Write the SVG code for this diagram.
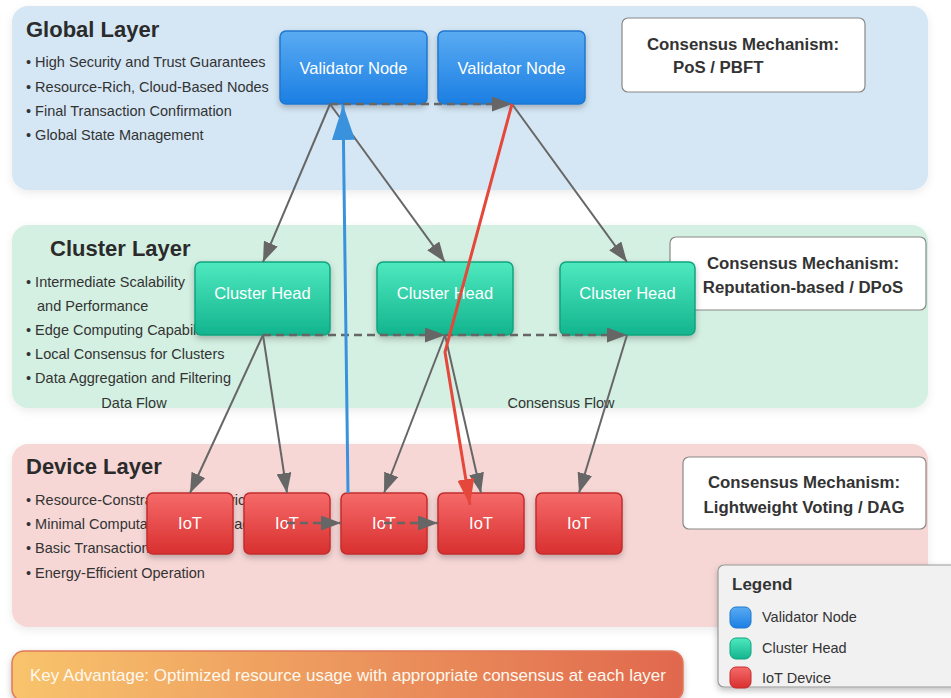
<svg xmlns="http://www.w3.org/2000/svg" width="951" height="698" viewBox="0 0 951 698">
<defs>
<linearGradient id="gBlue" x1="0" y1="0" x2="0" y2="1"><stop offset="0" stop-color="#5aabf2"/><stop offset="1" stop-color="#1b7fe3"/></linearGradient>
<linearGradient id="gGreen" x1="0" y1="0" x2="0" y2="1"><stop offset="0" stop-color="#4ee9bf"/><stop offset="1" stop-color="#13b48e"/></linearGradient>
<linearGradient id="gRed" x1="0" y1="0" x2="0" y2="1"><stop offset="0" stop-color="#f66a6a"/><stop offset="1" stop-color="#d8302f"/></linearGradient>
<linearGradient id="gBanner" x1="0" y1="0" x2="1" y2="0"><stop offset="0" stop-color="#f8c46c"/><stop offset="1" stop-color="#e0684e"/></linearGradient>
<filter id="sh" x="-20%" y="-20%" width="140%" height="150%"><feDropShadow dx="0" dy="3" stdDeviation="3" flood-color="#000" flood-opacity="0.25"/></filter>
<filter id="shp" x="-5%" y="-10%" width="110%" height="125%"><feDropShadow dx="0" dy="3" stdDeviation="4" flood-color="#000" flood-opacity="0.08"/></filter>
<marker id="aG" markerUnits="userSpaceOnUse" markerWidth="20" markerHeight="15" refX="20" refY="7.5" orient="auto"><path d="M0,0 L20,7.5 L0,15 z" fill="#666"/></marker>
<marker id="aB" markerUnits="userSpaceOnUse" markerWidth="35" markerHeight="23" refX="35" refY="11.5" orient="auto"><path d="M0,0 L35,11.5 L0,23 z" fill="#3a92dc"/></marker>
<marker id="aR" markerUnits="userSpaceOnUse" markerWidth="26" markerHeight="17" refX="26" refY="8.5" orient="auto"><path d="M0,0 L26,8.5 L0,17 z" fill="#e5483a"/></marker>
<style>
text{font-family:"Liberation Sans",Arial,sans-serif;}
.title{font-size:22px;font-weight:bold;fill:#2b2b2b;}
.bul{font-size:14.5px;fill:#333;}
.nt{font-size:16.5px;fill:#fff;text-anchor:middle;}
.cm{font-size:16.8px;font-weight:bold;fill:#333;text-anchor:middle;}
.cbox{fill:#fff;stroke:#888;stroke-width:1.2;}
.vn{fill:url(#gBlue);stroke:#1f77d0;stroke-width:1.5;filter:url(#sh);}
.ch{fill:url(#gGreen);stroke:#0fa47f;stroke-width:1.5;filter:url(#sh);}
.iot{fill:url(#gRed);stroke:#c42c2c;stroke-width:1.5;filter:url(#sh);}
.ln{stroke:#666;stroke-width:2;fill:none;marker-end:url(#aG);}
.dash{stroke:#666;stroke-width:2.5;fill:none;stroke-dasharray:8,5;marker-end:url(#aG);}
</style>
</defs>
<rect width="951" height="698" fill="#fff"/>
<g id="global-layer">
<rect x="12" y="6" width="916" height="184" rx="16" fill="#d5e7f5" filter="url(#shp)"/>
<text class="title" x="26" y="37">Global Layer</text>
<text class="bul" x="26" y="67">• High Security and Trust Guarantees</text>
<text class="bul" x="26" y="92">• Resource-Rich, Cloud-Based Nodes</text>
<text class="bul" x="26" y="116">• Final Transaction Confirmation</text>
<text class="bul" x="26" y="140">• Global State Management</text>
<rect class="cbox" x="622" y="18" width="243" height="74" rx="6"/>
<text class="cm" x="743" y="50">Consensus Mechanism:</text>
<text class="cm" x="673" y="73" style="text-anchor:start">PoS / PBFT</text>
</g>
<g id="cluster-layer">
<rect x="12" y="225" width="916" height="183" rx="16" fill="#d4f0e2" filter="url(#shp)"/>
<text class="title" x="50" y="256">Cluster Layer</text>
<text class="bul" x="26" y="287">• Intermediate Scalability</text>
<text class="bul" x="37" y="311">and Performance</text>
<text class="bul" x="26" y="335">• Edge Computing Capabilities</text>
<text class="bul" x="26" y="359">• Local Consensus for Clusters</text>
<text class="bul" x="26" y="383">• Data Aggregation and Filtering</text>
<text class="bul" x="134" y="408" text-anchor="middle">Data Flow</text>
<text class="bul" x="561" y="408" text-anchor="middle">Consensus Flow</text>
<rect class="cbox" x="670" y="237" width="256" height="73" rx="6"/>
<text class="cm" x="803" y="269">Consensus Mechanism:</text>
<text class="cm" x="803" y="293">Reputation-based / DPoS</text>
</g>
<g id="device-layer">
<rect x="12" y="444" width="916" height="183" rx="16" fill="#f6d7d6" filter="url(#shp)"/>
<text class="title" x="26" y="474">Device Layer</text>
<text class="bul" x="26" y="505">• Resource-Constrained IoT Devices</text>
<text class="bul" x="26" y="529">• Minimal Computational Overhead</text>
<text class="bul" x="26" y="553">• Basic Transaction Validation</text>
<text class="bul" x="26" y="578">• Energy-Efficient Operation</text>
<rect class="cbox" x="683" y="457" width="243" height="72" rx="6"/>
<text class="cm" x="804" y="488">Consensus Mechanism:</text>
<text class="cm" x="804" y="513">Lightweight Voting / DAG</text>
</g>
<g id="validator-1"><rect class="vn" x="280" y="31" width="147" height="73" rx="6"/><text class="nt" x="353.5" y="74">Validator Node</text></g>
<g id="validator-2"><rect class="vn" x="438" y="31" width="147" height="73" rx="6"/><text class="nt" x="511.5" y="74">Validator Node</text></g>
<g id="cluster-head-1"><rect class="ch" x="195" y="262" width="135" height="73" rx="6"/><text class="nt" x="262.5" y="299">Cluster Head</text></g>
<g id="cluster-head-2"><rect class="ch" x="377" y="262" width="136" height="73" rx="6"/><text class="nt" x="445" y="299">Cluster Head</text></g>
<g id="cluster-head-3"><rect class="ch" x="560" y="262" width="135" height="73" rx="6"/><text class="nt" x="627.5" y="299">Cluster Head</text></g>
<g id="iot-1"><rect class="iot" x="147" y="493" width="86" height="61" rx="6"/><text class="nt" x="190" y="529">IoT</text></g>
<g id="iot-2"><rect class="iot" x="244" y="493" width="86" height="61" rx="6"/><text class="nt" x="287" y="529">IoT</text></g>
<g id="iot-3"><rect class="iot" x="341" y="493" width="86" height="61" rx="6"/><text class="nt" x="384" y="529">IoT</text></g>
<g id="iot-4"><rect class="iot" x="438" y="493" width="86" height="61" rx="6"/><text class="nt" x="481" y="529">IoT</text></g>
<g id="iot-5"><rect class="iot" x="536" y="493" width="86" height="61" rx="6"/><text class="nt" x="579" y="529">IoT</text></g>
<g id="connectors">
<line class="ln" x1="330" y1="104" x2="263" y2="262"/>
<line class="ln" x1="330" y1="104" x2="445" y2="262"/>
<line class="ln" x1="512" y1="104" x2="627" y2="262"/>
<line class="dash" x1="330" y1="104" x2="512" y2="104"/>
<line class="ln" x1="263" y1="335" x2="190" y2="493"/>
<line class="ln" x1="263" y1="335" x2="287" y2="493"/>
<line class="ln" x1="445" y1="335" x2="384" y2="493"/>
<line class="ln" x1="445" y1="335" x2="481" y2="493"/>
<line class="ln" x1="627" y1="335" x2="579" y2="493"/>
<line class="dash" x1="263" y1="335" x2="445" y2="335"/>
<line class="dash" x1="445" y1="335" x2="627" y2="335"/>
<line class="dash" x1="287" y1="523" x2="341" y2="523"/>
<line class="dash" x1="384" y1="523" x2="438" y2="523"/>
<line x1="348" y1="493" x2="343" y2="105" stroke="#3a92dc" stroke-width="3" fill="none" marker-end="url(#aB)"/>
<polyline points="512,104 445,352 470,505" stroke="#e5483a" stroke-width="3" fill="none" marker-end="url(#aR)"/>
</g>
<g id="legend">
<rect x="718" y="565" width="250" height="122" rx="6" fill="#f1f1f1" stroke="#999" stroke-width="1.2" filter="url(#sh)"/>
<text x="732" y="590" style="font-size:17px;font-weight:bold;fill:#333">Legend</text>
<rect x="730" y="607" width="21" height="21" rx="6" fill="url(#gBlue)" stroke="#1f77d0"/>
<text class="bul" x="762" y="622">Validator Node</text>
<rect x="730" y="638" width="21" height="21" rx="6" fill="url(#gGreen)" stroke="#0fa47f"/>
<text class="bul" x="762" y="653">Cluster Head</text>
<rect x="730" y="667" width="21" height="21" rx="6" fill="url(#gRed)" stroke="#c42c2c"/>
<text class="bul" x="762" y="683">IoT Device</text>
</g>
<g id="key-advantage">
<rect x="12" y="651" width="671" height="50" rx="12" fill="url(#gBanner)" stroke="#e0785a" stroke-width="1.5" filter="url(#sh)"/>
<text x="348" y="681" text-anchor="middle" style="font-size:17px;fill:#fff8ee">Key Advantage: Optimized resource usage with appropriate consensus at each layer</text>
</g>
</svg>
